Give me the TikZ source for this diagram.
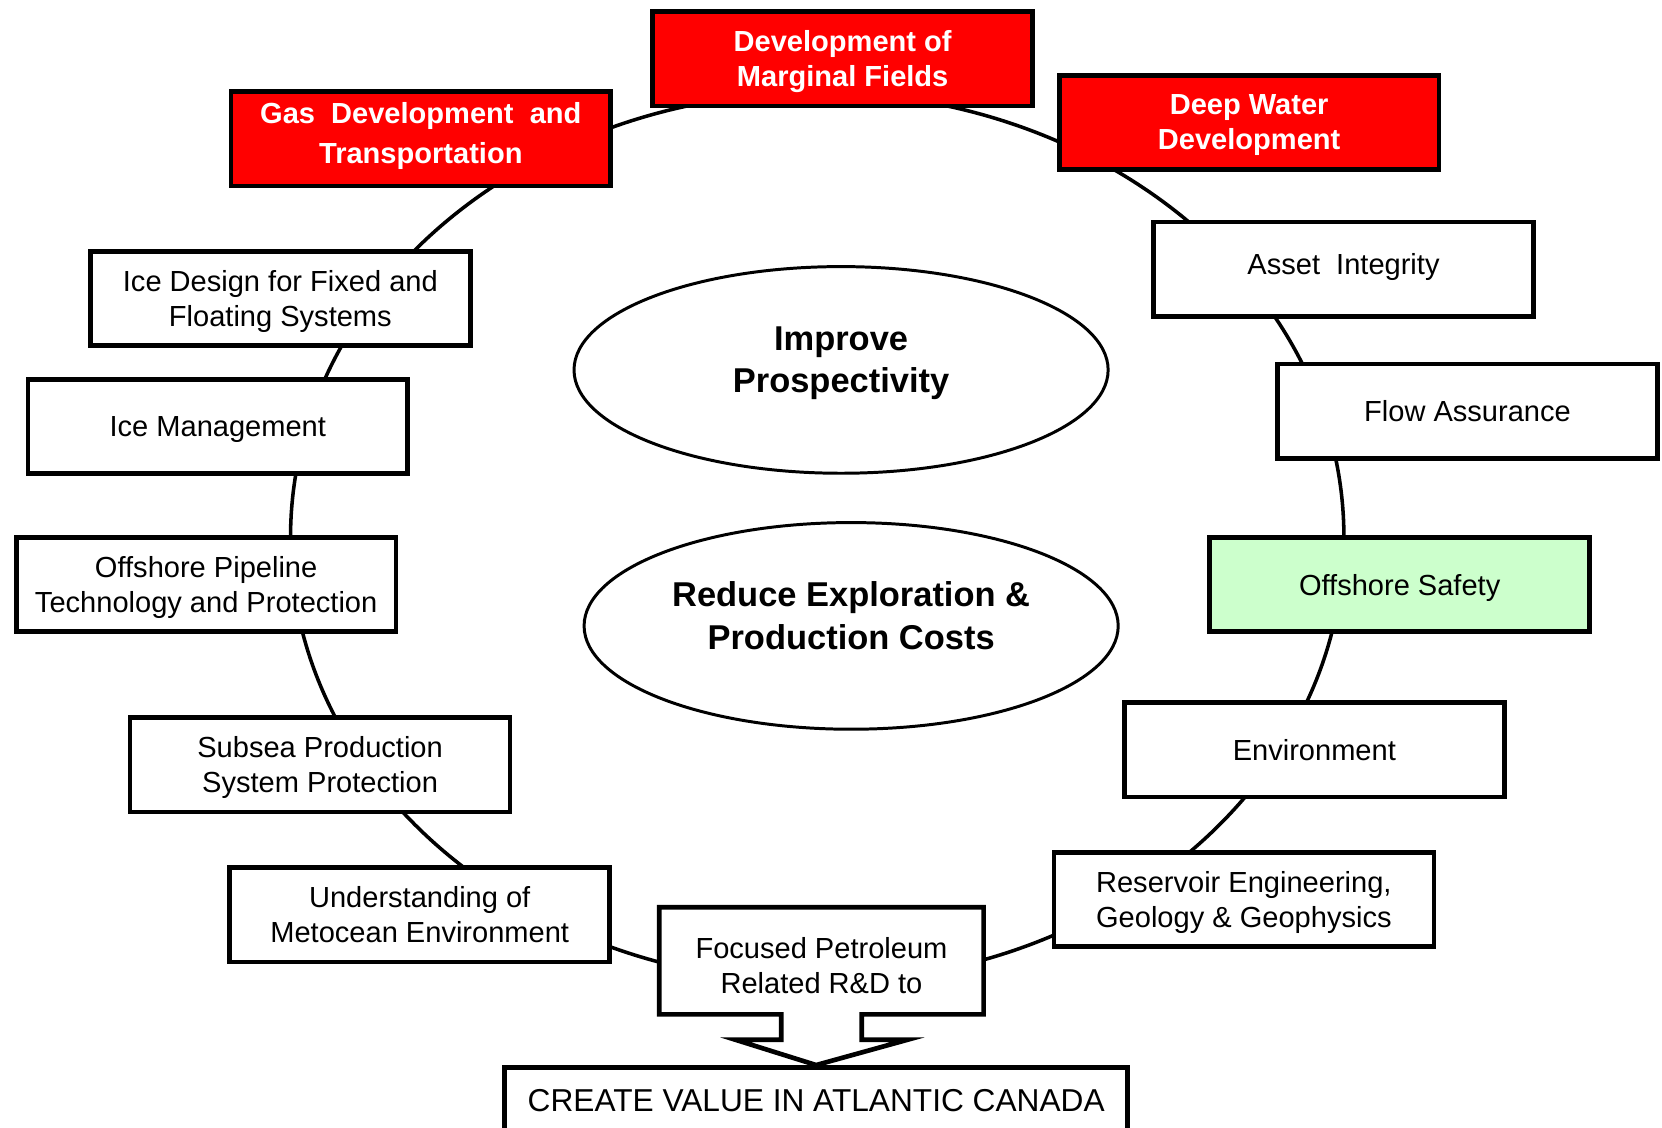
\documentclass[tikz,border=0pt]{standalone}
\usepackage{fontspec}
\setmainfont{Liberation Sans}
\usetikzlibrary{shapes.geometric}

\begin{document}
\begin{tikzpicture}[x=0.02cm, y=-0.02cm,
  topic/.style={draw, line width=2.5pt, fill=white, inner sep=0pt,
    minimum width=7.17cm, minimum height=1.78cm, align=center, text depth=0pt,
    font=\fontsize{15.6}{18.8}\selectfont},
  hot/.style={topic, fill=red, text=white,
    font=\fontsize{15.6}{18.8}\selectfont\bfseries},
  safe/.style={topic, fill=safegreen},
  aim/.style={draw, ellipse, line width=1.6pt, inner sep=0pt, align=center,
    minimum width=10.08cm, minimum height=3.9cm, text depth=11pt,
    font=\fontsize{18.5}{22.8}\selectfont\bfseries},
  ring/.style={line width=1.9pt}]

\definecolor{safegreen}{HTML}{CCFFCC}
\useasboundingbox (0,0) rectangle (1568,1064);

% Centre of the ring
\coordinate (C) at (771,507);

% Ring
\draw[ring] (C) ellipse [x radius=9.94cm, y radius=8.4cm];

% Goals
\node[aim] (prosp) at (793.5,349) {Improve\\Prospectivity};
\node[aim] (costs) at (803,590.5) {Reduce Exploration \&\\Production Costs};

% Red topics
\node[hot, text depth=6pt, font=\fontsize{15.6}{21.6}\selectfont\bfseries] (gas) at (397,131) {Gas~~Development~~and\\Transportation};
\node[hot] (marg) at (795,55.5) {Development of\\Marginal Fields};
\node[hot] (deep) at (1178.5,115.5) {Deep Water\\Development};

% Right side
\node[topic, text depth=6pt] (asset) at (1267.5,254) {Asset~~Integrity};
\node[topic] (flow) at (1384.5,388) {Flow Assurance};
\node[safe] (safety) at (1320.5,551.5) {Offshore Safety};
\node[topic] (env) at (1240,707.5) {Environment};
\node[topic] (res) at (1173.5,848.5) {Reservoir Engineering,\\Geology \& Geophysics};

% Left side
\node[topic] (icedes) at (264.5,281.5) {Ice Design for Fixed and\\Floating Systems};
\node[topic] (iceman) at (205.5,402.5) {Ice Management};
\node[topic] (pipe) at (194.5,551.5) {Offshore Pipeline\\Technology and Protection};
\node[topic] (subsea) at (302,721.5) {Subsea Production\\System Protection};
\node[topic] (meto) at (396,863) {Understanding of\\Metocean Environment};

% Bottom
\node[topic, minimum width=11.76cm, minimum height=1.24cm, text depth=,
  font=\fontsize{17}{20}\selectfont] (value) at (770,1038) {CREATE VALUE IN ATLANTIC CANADA};
\draw[line width=2.5pt, fill=white] (622,856) -- (928,856) -- (928,957) -- (813,957)
  -- (813,981) -- (856,981) -- (value.north) -- (694,981) -- (737,981)
  -- (737,957) -- (622,957) -- cycle;
\node[align=center, text depth=0pt, font=\fontsize{15.6}{18.8}\selectfont] (rd) at (775,911) {Focused Petroleum\\Related R\&D to};

\end{tikzpicture}
\end{document}
